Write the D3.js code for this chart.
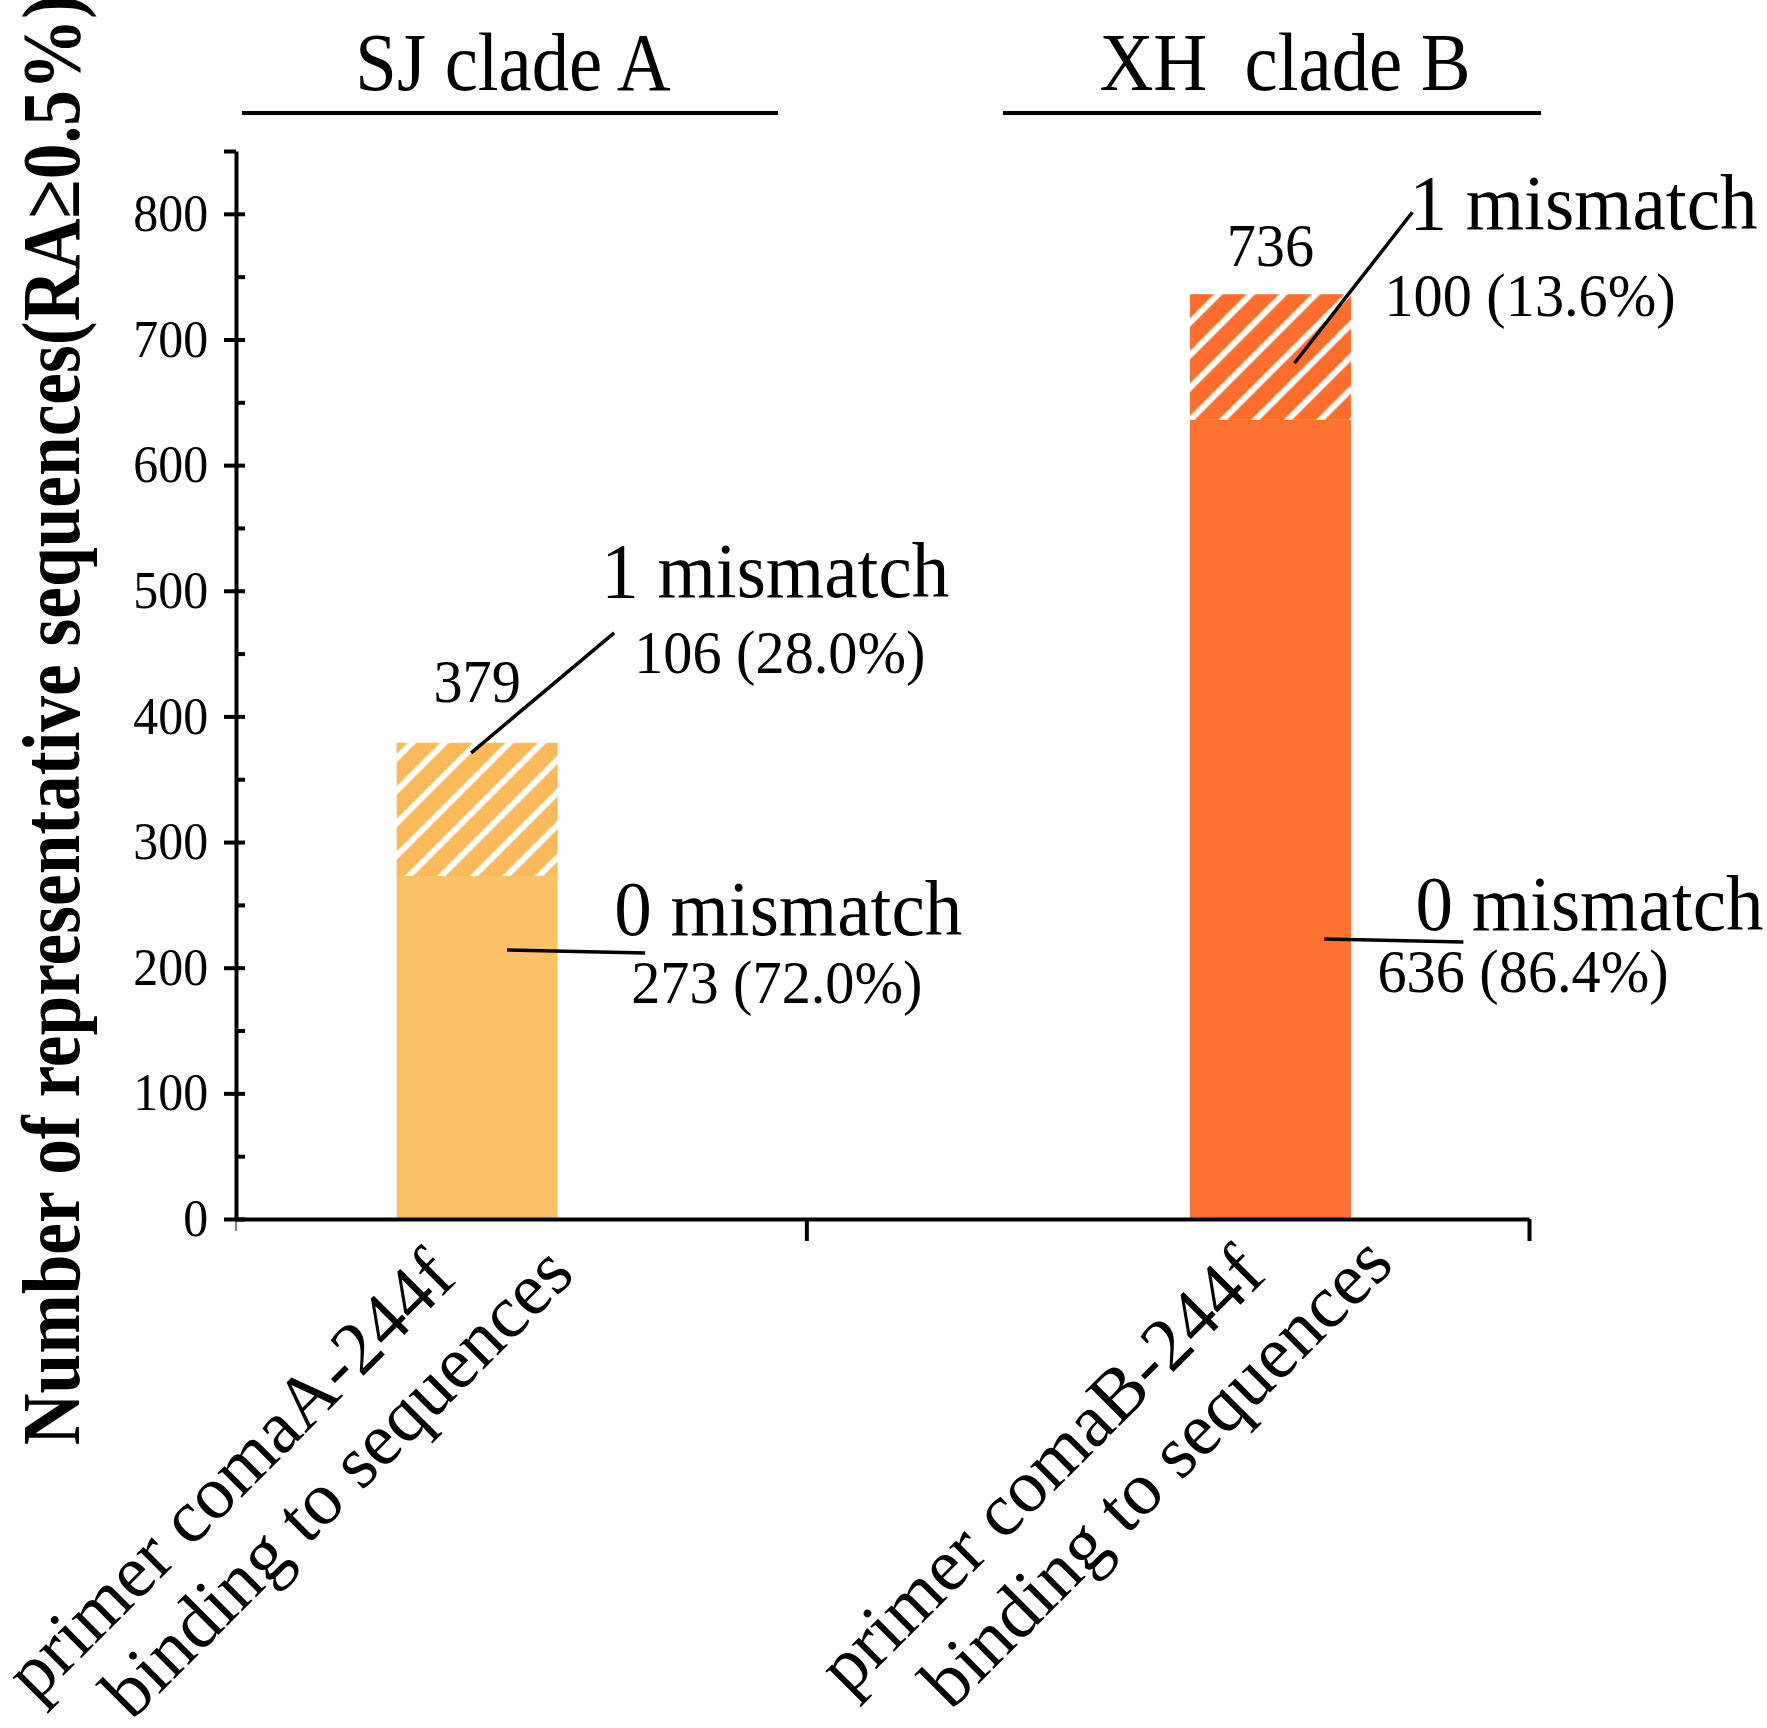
<!DOCTYPE html>
<html>
<head>
<meta charset="utf-8">
<script src="https://cdn.jsdelivr.net/npm/d3@7"></script>
<style>
  body { margin: 0; background: #fff; }
  text { font-family: "Liberation Serif", "Times New Roman", serif; fill: #000; }
</style>
</head>
<body>
<div id="wrapper"></div>
<script>
// data
const positions = [1, 2];
const cladeTitles = ["SJ clade A", "XH\u00a0 clade B"];
const labelLine1 = ["primer comaA-244f", "primer comaB-244f"];
const labelLine2 = ["binding to sequences", "binding to sequences"];
const zeroMismatch = [273, 636];
const oneMismatch = [106, 100];
const totals = [379, 736];
const zeroPct = ["72.0%", "86.4%"];
const onePct = ["28.0%", "13.6%"];
const yTicks = [0, 100, 200, 300, 400, 500, 600, 700, 800, 850];
const yMinorTicks = [50, 150, 250, 350, 450, 550, 650, 750];
const xTicks = [1.415, 2.326];
const barColors = ["#fdc169", "#fe7230"];
const hatchColors = ["#fcb95a", "#fe6d2a"];

// annotation layout, offsets from bar centre / bar top / split
const layout = [
    { total: -41, oneT: [124, -146], oneV: [157, -70], oneLine: [137, -110, -6, 10],
      zeroT: [137, 59], zeroV: [154, 127], zeroLine: [30, 74, 168, 77],
      l1: [-230, 1492], l2: [-123, 1499] },
    { total: -28, oneT: [139, -65], oneV: [114, 22], oneLine: [142, -82, 24, 69],
      zeroT: [145, 510], zeroV: [107, 572], zeroLine: [54, 519, 193, 522],
      l1: [-212, 1487], l2: [-97, 1489] }
];

let dimensions = {
    width: 1767,
    height: 1728,
    axisLeft: 236,
    axisRight: 1529,
    axisTop: 151,
    axisBottom: 1219
};

const svg = d3.select("#wrapper")
    .append("svg")
    .attr("width", dimensions.width)
    .attr("height", dimensions.height);

const defs = svg.append("defs");
hatchColors.forEach((c, i) => {
    const p = defs.append("pattern")
        .attr("id", "hatch" + i)
        .attr("patternUnits", "userSpaceOnUse")
        .attr("width", 23)
        .attr("height", 23)
        .attr("patternTransform", "rotate(45)");
    p.append("rect").attr("width", 23).attr("height", 23).attr("fill", c);
    p.append("line")
        .attr("x1", 11.5).attr("y1", 0).attr("x2", 11.5).attr("y2", 23)
        .attr("stroke", "#fff").attr("stroke-width", 6);
});

const xScale = d3.scaleLinear()
    .domain([0.696, 2.326])
    .range([dimensions.axisLeft, dimensions.axisRight]);

const yScale = d3.scaleLinear()
    .domain([0, 850])
    .range([dimensions.axisBottom, dimensions.axisTop]);

const barW = xScale(1.203) - xScale(1);

// bars
const bars = svg.append("g");
positions.forEach((p, i) => {
    const cx = xScale(p);
    bars.append("rect")
        .attr("x", cx - barW / 2)
        .attr("width", barW)
        .attr("y", yScale(zeroMismatch[i]))
        .attr("height", yScale(0) - yScale(zeroMismatch[i]))
        .attr("fill", barColors[i]);
    bars.append("rect")
        .attr("x", cx - barW / 2)
        .attr("width", barW)
        .attr("y", yScale(totals[i]))
        .attr("height", yScale(zeroMismatch[i]) - yScale(totals[i]))
        .attr("fill", `url(#hatch${i})`);
});

// axes
const yAxisLeft = d3.axisLeft(yScale)
    .tickValues(yTicks)
    .tickSize(12)
    .tickSizeOuter(0)
    .tickPadding(17)
    .tickFormat(d => d === 850 ? "" : d);

const yAxisG = svg.append("g")
    .attr("transform", `translate(${dimensions.axisLeft},0)`)
    .call(yAxisLeft);

yAxisG.selectAll("text")
    .attr("font-size", 52)
    .attr("transform", "scale(0.96,1)");

svg.append("g")
    .attr("transform", `translate(${dimensions.axisLeft},0)`)
    .call(d3.axisRight(yScale).tickValues(yMinorTicks.concat(yTicks.slice(0, 9))).tickSize(9).tickSizeOuter(0).tickFormat(""))
    .select(".domain").remove();

svg.append("g")
    .attr("transform", `translate(0,${dimensions.axisBottom})`)
    .call(d3.axisBottom(xScale).tickValues(xTicks).tickSize(22).tickSizeOuter(0).tickFormat(""));

svg.append("line")
    .attr("x1", dimensions.axisLeft).attr("x2", dimensions.axisLeft)
    .attr("y1", dimensions.axisBottom).attr("y2", dimensions.axisBottom + 12)
    .attr("stroke", "#000");

svg.selectAll(".domain, .tick line").attr("stroke", "#000").attr("stroke-width", 4);

// y title
svg.append("text")
    .attr("transform", `translate(79,1445) rotate(-90)`)
    .attr("font-size", 82)
    .attr("font-weight", "bold")
    .attr("textLength", 1450)
    .attr("lengthAdjust", "spacingAndGlyphs")
    .text("Number of representative sequences(RA\u22650.5%)");

// helper for slightly condensed text
function label(x, y, str, size, sx, anchor) {
    svg.append("text")
        .attr("transform", `translate(${x},${y}) scale(${sx},1)`)
        .attr("font-size", size)
        .attr("text-anchor", anchor || "start")
        .text(str);
}

// clade headers
const headerCentres = [513, 1285];
const headerLines = [[242, 778], [1003, 1541]];
cladeTitles.forEach((t, i) => {
    label(headerCentres[i], 90, t, 83, 0.9, "middle");
    svg.append("line")
        .attr("x1", headerLines[i][0]).attr("x2", headerLines[i][1])
        .attr("y1", 113).attr("y2", 113)
        .attr("stroke", "#000").attr("stroke-width", 4);
});

// annotations
positions.forEach((p, i) => {
    const cx = xScale(p);
    const yTop = yScale(totals[i]);
    const ySplit = yScale(zeroMismatch[i]);
    const L = layout[i];

    label(cx, yTop + L.total, totals[i], 62, 0.94, "middle");
    label(cx + L.oneT[0], yTop + L.oneT[1], "1 mismatch", 79, 0.95);
    label(cx + L.oneV[0], yTop + L.oneV[1], `${oneMismatch[i]} (${onePct[i]})`, 62, 0.94);
    svg.append("line")
        .attr("x1", cx + L.oneLine[0]).attr("y1", yTop + L.oneLine[1])
        .attr("x2", cx + L.oneLine[2]).attr("y2", yTop + L.oneLine[3])
        .attr("stroke", "#000").attr("stroke-width", 3.5);

    label(cx + L.zeroT[0], ySplit + L.zeroT[1], "0 mismatch", 79, 0.95);
    label(cx + L.zeroV[0], ySplit + L.zeroV[1], `${zeroMismatch[i]} (${zeroPct[i]})`, 62, 0.94);
    svg.append("line")
        .attr("x1", cx + L.zeroLine[0]).attr("y1", ySplit + L.zeroLine[1])
        .attr("x2", cx + L.zeroLine[2]).attr("y2", ySplit + L.zeroLine[3])
        .attr("stroke", "#000").attr("stroke-width", 3.5);

    // rotated category labels
    svg.append("text")
        .attr("transform", `translate(${cx + L.l1[0]},${L.l1[1]}) rotate(-45)`)
        .attr("font-size", 75)
        .attr("text-anchor", "middle")
        .text(labelLine1[i]);
    svg.append("text")
        .attr("transform", `translate(${cx + L.l2[0]},${L.l2[1]}) rotate(-45)`)
        .attr("font-size", 75)
        .attr("text-anchor", "middle")
        .text(labelLine2[i]);
});
</script>
</body>
</html>
